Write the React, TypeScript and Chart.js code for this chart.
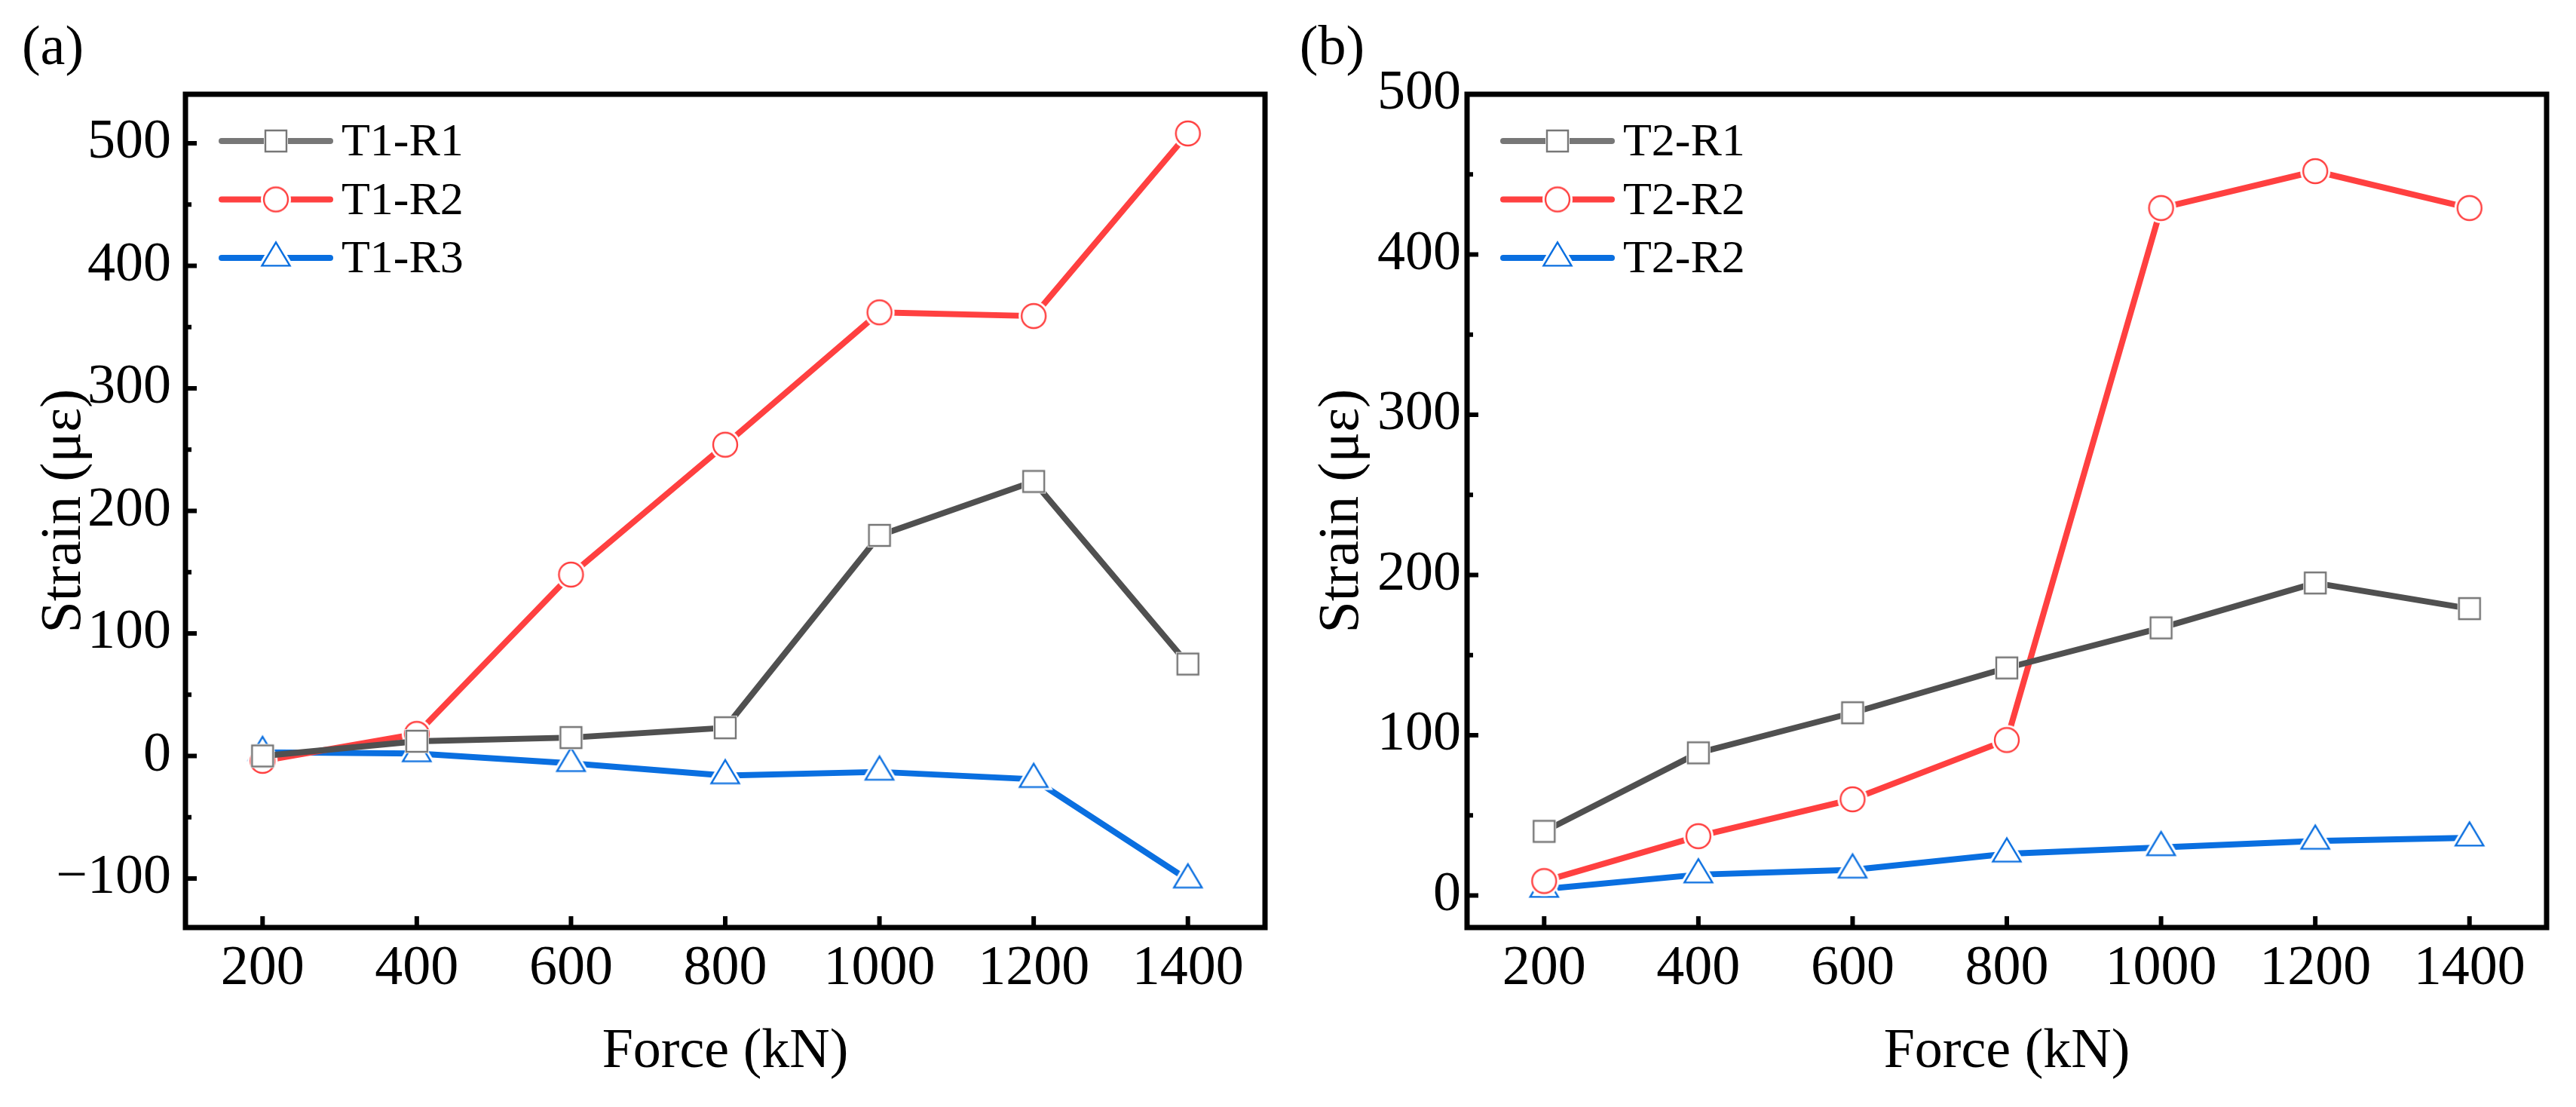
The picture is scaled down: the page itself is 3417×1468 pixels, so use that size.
import React, { useEffect, useRef } from 'react';
import { Chart, registerables } from 'chart.js';

Chart.register(...registerables);

// Force steps (kN)
const forces = [200, 400, 600, 800, 1000, 1200, 1400];

// Panel (a) strains (με)
const t1r1 = [0, 12, 15, 23, 180, 224, 75];
const t1r2 = [-4, 18, 148, 254, 362, 359, 508];
const t1r3 = [3, 2, -6, -16, -13, -19, -101];

// Panel (b) strains (με)
const t2r1 = [40, 89, 114, 142, 167, 195, 179];
const t2r2 = [9, 37, 60, 97, 429, 452, 429];
const t2r3 = [4, 13, 16, 26, 30, 34, 36];

const seriesNamesA = ['T1-R1', 'T1-R2', 'T1-R3'];
const seriesNamesB = ['T2-R1', 'T2-R2', 'T2-R2'];

const yTicksA = [-100, 0, 100, 200, 300, 400, 500];
const yTicksB = [0, 100, 200, 300, 400, 500];

const FONT = '"Liberation Serif", "Times New Roman", serif';

type Shape = 'square' | 'circle' | 'triangle';

const lineColors = ['#505050', '#ff4040', '#0a6fe0'];
const legendLineColors = ['#777777', '#ff4040', '#0a6fe0'];
const markerColors = ['#777777', '#ff4040', '#0a6fe0'];
const shapes: Shape[] = ['square', 'circle', 'triangle'];

// hollow marker with a small white halo, so the line stops short of it
function makeMarker(shape: Shape, color: string): HTMLCanvasElement {
    const size = 64;
    const c = document.createElement('canvas');
    c.width = size;
    c.height = size;
    const ctx = c.getContext('2d')!;
    const cx = size / 2;
    const cy = size / 2;
    const path = (grow: number) => {
        ctx.beginPath();
        if (shape === 'square') {
            const h = 14 + grow;
            ctx.rect(cx - h, cy - h, 2 * h, 2 * h);
        } else if (shape === 'circle') {
            ctx.arc(cx, cy, 16 + grow, 0, Math.PI * 2);
        } else {
            const w = 18.5;
            const hgt = 31;
            const k = 1 + grow / 10.3;
            ctx.moveTo(cx, cy - (2 / 3) * hgt * k);
            ctx.lineTo(cx + w * k, cy + (hgt / 3) * k);
            ctx.lineTo(cx - w * k, cy + (hgt / 3) * k);
            ctx.closePath();
        }
    };
    ctx.fillStyle = '#ffffff';
    path(shape === 'square' ? 2 : 4);
    ctx.fill();
    path(0);
    ctx.fill();
    ctx.lineWidth = 2.4;
    ctx.strokeStyle = color;
    ctx.lineJoin = 'miter';
    ctx.stroke();
    return c;
}

interface PanelProps {
    series: number[][];
    names: string[];
    yTicks: number[];
    yMin: number;
    yMax: number;
    tag: string;
    tagX: number;
    width: number;
    left: number;
    plotLeft: number;
    padRight: number;
    yLabelPad: number;
    yTitlePad: number;
}

const Panel: React.FC<PanelProps> = ({ series, names, yTicks, yMin, yMax, tag, tagX, width, left, plotLeft, padRight, yLabelPad, yTitlePad }) => {
    const canvasRef = useRef<HTMLCanvasElement | null>(null);

    useEffect(() => {
        if (!canvasRef.current) return;
        const ctx = canvasRef.current.getContext('2d');
        if (!ctx) return;

        const markers = shapes.map((s, i) => makeMarker(s, markerColors[i]));

        const decor = {
            id: 'decor',
            afterDraw(chart: any) {
                const c: CanvasRenderingContext2D = chart.ctx;
                const a = chart.chartArea;
                const xs = chart.scales.x;
                const ys = chart.scales.y;
                c.save();
                c.strokeStyle = '#000';
                c.lineCap = 'butt';
                c.lineWidth = 6;
                const seg = (x1: number, y1: number, x2: number, y2: number) => {
                    c.beginPath();
                    c.moveTo(x1, y1);
                    c.lineTo(x2, y2);
                    c.stroke();
                };
                xs.ticks.forEach((t: any) => {
                    const px = xs.getPixelForValue(t.value);
                    seg(px, a.bottom, px, a.bottom - 15);
                });
                ys.ticks.forEach((t: any) => {
                    const py = ys.getPixelForValue(t.value);
                    seg(a.left, py, a.left + 15, py);
                });
                const step = yTicks[1] - yTicks[0];
                for (let v = yTicks[0] - step / 2; v <= yTicks[yTicks.length - 1] + step / 2; v += step) {
                    if (v < yMin || v > yMax) continue;
                    const py = ys.getPixelForValue(v);
                    seg(a.left, py, a.left + 8, py);
                }
                // frame
                c.lineWidth = 7;
                c.lineJoin = 'miter';
                c.strokeRect(a.left, a.top, a.right - a.left, a.bottom - a.top);

                // legend
                c.font = `62px ${FONT}`;
                c.fillStyle = '#000';
                c.textAlign = 'left';
                c.textBaseline = 'middle';
                names.forEach((n, i) => {
                    const ry = a.top + 62 + i * 77.5;
                    c.strokeStyle = legendLineColors[i];
                    c.lineWidth = 8;
                    c.lineCap = 'round';
                    seg(a.left + 48, ry, a.left + 192, ry);
                    const m = markers[i];
                    c.drawImage(m, a.left + 120 - m.width / 2, ry - m.height / 2);
                    c.fillText(n, a.left + 207, ry + 3);
                });

                // panel tag
                c.font = `74px ${FONT}`;
                c.textAlign = 'center';
                c.fillText(tag, tagX, 66);
                c.restore();
            },
        };

        const chart = new Chart(ctx, {
            type: 'line',
            data: {
                datasets: series.map((vals, i) => ({
                    label: names[i],
                    data: forces.map((f, k) => ({ x: f, y: vals[k] })),
                    borderColor: lineColors[i],
                    backgroundColor: lineColors[i],
                    borderWidth: 8,
                    borderCapStyle: 'round',
                    borderJoinStyle: 'round',
                    pointStyle: markers[i],
                    pointRadius: 18,
                    tension: 0,
                    fill: false,
                })),
            },
            options: {
                animation: false,
                responsive: false,
                devicePixelRatio: 1,
                layout: { padding: { top: 125, right: padRight, left: 0, bottom: 0 } },
                plugins: {
                    legend: { display: false },
                    tooltip: { enabled: false },
                },
                scales: {
                    x: {
                        type: 'linear',
                        min: 100,
                        max: 1500,
                        afterBuildTicks: (scale: any) => {
                            scale.ticks = forces.map((v) => ({ value: v }));
                        },
                        afterFit: (scale: any) => {
                            scale.height = 1468 - 1230;
                        },
                        grid: { display: false, drawTicks: false },
                        border: { display: false },
                        ticks: {
                            font: { family: FONT, size: 74 },
                            color: '#000',
                            padding: 11,
                            maxRotation: 0,
                            callback: (v: any) => String(v),
                        },
                        title: {
                            display: true,
                            text: 'Force (kN)',
                            font: { family: FONT, size: 74 },
                            color: '#000',
                            padding: { top: 0, bottom: 28 },
                        },
                    },
                    y: {
                        type: 'linear',
                        min: yMin,
                        max: yMax,
                        afterBuildTicks: (scale: any) => {
                            scale.ticks = yTicks.map((v) => ({ value: v }));
                        },
                        afterFit: (scale: any) => {
                            scale.width = plotLeft;
                        },
                        grid: { display: false, drawTicks: false },
                        border: { display: false },
                        ticks: {
                            font: { family: FONT, size: 74 },
                            color: '#000',
                            padding: yLabelPad,
                            callback: (v: any) => (Number(v) < 0 ? '\u2212' + Math.abs(Number(v)) : String(v)),
                        },
                        title: {
                            display: true,
                            text: 'Strain (με)',
                            font: { family: FONT, size: 76 },
                            color: '#000',
                            padding: { top: yTitlePad, bottom: 0 },
                        },
                    },
                },
            } as any,
            plugins: [decor],
        });

        return () => {
            chart.destroy();
        };
    }, [series, names, yTicks, yMin, yMax]);

    return (
        <canvas
            ref={canvasRef}
            width={width}
            height={1468}
            style={{ position: 'absolute', left, top: 0, width, height: 1468 }}
        ></canvas>
    );
};

const seriesA = [t1r1, t1r2, t1r3];
const seriesB = [t2r1, t2r2, t2r3];

export default function App() {
    return (
        <div style={{ position: 'absolute', left: 0, top: 0, width: 3417, height: 1468, background: '#fff' }}>
            <Panel
                series={seriesA}
                names={seriesNamesA}
                yTicks={yTicksA}
                yMin={-140}
                yMax={540}
                tag="(a)"
                tagX={70}
                width={1710}
                left={0}
                plotLeft={246}
                padRight={32}
                yLabelPad={19}
                yTitlePad={40}
            />
            <Panel
                series={seriesB}
                names={seriesNamesB}
                yTicks={yTicksB}
                yMin={-20}
                yMax={500}
                tag="(b)"
                tagX={57}
                width={1707}
                left={1710}
                plotLeft={236}
                padRight={39}
                yLabelPad={8}
                yTitlePad={25}
            />
        </div>
    );
}
